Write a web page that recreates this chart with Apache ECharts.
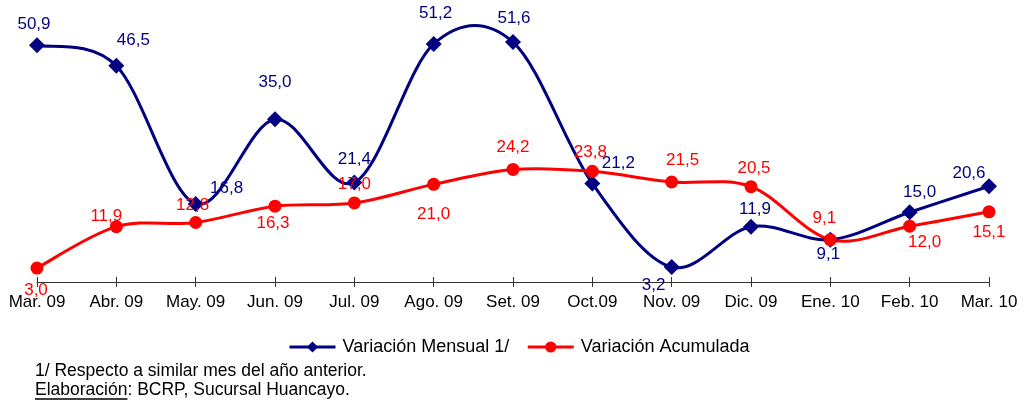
<!DOCTYPE html>
<html>
<head>
<meta charset="utf-8">
<script src="https://cdn.jsdelivr.net/npm/echarts@6/dist/echarts.min.js"></script>
<style>
html,body{margin:0;padding:0;background:#fff;}
#chart{width:1024px;height:405px;}
</style>
</head>
<body>
<div id="chart"></div>
<script>
const categories = ['Mar. 09','Abr. 09','May. 09','Jun. 09','Jul. 09','Ago. 09','Set. 09','Oct.09','Nov. 09','Dic. 09','Ene. 10','Feb. 10','Mar. 10'];
const mensual = [50.9, 46.5, 16.8, 35.0, 21.4, 51.2, 51.6, 21.2, 3.2, 11.9, 9.1, 15.0, 20.6];
const acumulada = [3.0, 11.9, 12.8, 16.3, 17.0, 21.0, 24.2, 23.8, 21.5, 20.5, 9.1, 12.0, 15.1];
const seriesNames = ['Variación Mensual 1/', 'Variación Acumulada'];
const footnote1 = '1/ Respecto a similar mes del año anterior.';
const footnote2a = 'Elaboración';
const footnote2b = ': BCRP, Sucursal Huancayo.';

// label offsets (styling only)
const mensualOffsets = [[-3,-21],[17,-25],[31,-16],[0,-37],[0,-23],[2,-31],[1,-24],[26,-20],[-18,18],[4,-17],[-2,15],[10,-20],[-20,-13]];
const acumOffsets = [[-1,22],[-10,-10],[-3,-17],[-2,17],[0,-19],[0,30],[0,-22],[-2,-19],[11,-22],[3,-18],[-6,-21],[15,16],[0,21]];

const FONT = "'Liberation Sans', Arial, sans-serif";
const NAVY = '#000080';
const RED = '#FF0000';
const fmt = v => v.toFixed(1).replace('.', ',');

function build(values, offsets) {
  return values.map((v, i) => ({ value: v, label: { offset: offsets[i] } }));
}

// Excel-like smooth curve (Catmull-Rom) drawn segment by segment via the chart's own scales
function curveSeries(values, color, z) {
  const n = values.length;
  return {
    type: 'custom',
    coordinateSystem: 'cartesian2d',
    clip: false,
    silent: true,
    z: z,
    data: values.map((v, i) => [i, v]),
    renderItem: function (params, api) {
      const i = params.dataIndex;
      if (i >= n - 1) return null;
      const c = k => { const j = Math.max(0, Math.min(n - 1, k)); return api.coord([j, values[j]]); };
      const p0 = c(i - 1), p1 = c(i), p2 = c(i + 1), p3 = c(i + 2);
      return {
        type: 'bezierCurve',
        shape: {
          x1: p1[0], y1: p1[1], x2: p2[0], y2: p2[1],
          cpx1: p1[0] + (p2[0] - p0[0]) / 6, cpy1: p1[1] + (p2[1] - p0[1]) / 6,
          cpx2: p2[0] - (p3[0] - p1[0]) / 6, cpy2: p2[1] - (p3[1] - p1[1]) / 6
        },
        style: { stroke: color, lineWidth: 3, fill: null, lineCap: 'round' }
      };
    }
  };
}

const cvs = document.createElement('canvas').getContext('2d');
cvs.font = "17.5px " + FONT;
const w2a = cvs.measureText(footnote2a).width;

const chart = echarts.init(document.getElementById('chart'));
chart.setOption({
  animation: false,
  backgroundColor: '#fff',
  grid: { left: 37, right: 35, top: 3, bottom: 123 },
  xAxis: [{
    type: 'category',
    data: categories,
    boundaryGap: false,
    axisLine: { lineStyle: { color: '#333', width: 1 } },
    axisTick: { show: true, length: 5, lineStyle: { color: '#333' } },
    axisLabel: { color: '#000', fontFamily: FONT, fontSize: 17, margin: 12, interval: 0 },
    splitLine: { show: false }
  }, {
    type: 'category',
    data: categories,
    boundaryGap: false,
    position: 'bottom',
    axisLine: { show: false },
    axisTick: { show: true, inside: true, length: 5, lineStyle: { color: '#333' } },
    axisLabel: { show: false },
    splitLine: { show: false }
  }],
  yAxis: { type: 'value', min: 0, max: 60, show: false },
  legend: {
    top: 333,
    left: 283,
    itemWidth: 46,
    itemHeight: 14,
    itemGap: 17,
    textStyle: { color: '#000', fontFamily: FONT, fontSize: 18, padding: [0, 0, 0, 2] },
    data: [
      { name: seriesNames[0], lineStyle: { color: NAVY, width: 3, opacity: 1 } },
      { name: seriesNames[1], lineStyle: { color: RED, width: 3, opacity: 1 } }
    ]
  },
  series: [
    curveSeries(mensual, NAVY, 2),
    curveSeries(acumulada, RED, 3),
  {
    name: seriesNames[0],
    type: 'line',
    data: build(mensual, mensualOffsets),
    symbol: 'diamond',
    symbolSize: 16,
    itemStyle: { color: NAVY },
    lineStyle: { color: NAVY, width: 3, opacity: 0 },
    label: {
      show: true, position: 'inside', color: NAVY, fontFamily: FONT, fontSize: 17,
      formatter: p => fmt(p.value)
    },
    z: 4
  }, {
    name: seriesNames[1],
    type: 'line',
    data: build(acumulada, acumOffsets),
    symbol: 'circle',
    symbolSize: 13,
    itemStyle: { color: RED },
    lineStyle: { color: RED, width: 3, opacity: 0 },
    label: {
      show: true, position: 'inside', color: RED, fontFamily: FONT, fontSize: 17,
      formatter: p => fmt(p.value)
    },
    z: 5
  }],
  graphic: [{
    type: 'text', left: 35, top: 362,
    style: { text: footnote1, fill: '#000', font: '17.5px ' + FONT }
  }, {
    type: 'text', left: 35, top: 381,
    style: { text: footnote2a, fill: '#000', font: '17.5px ' + FONT }
  }, {
    type: 'text', left: 35 + w2a, top: 381,
    style: { text: footnote2b, fill: '#000', font: '17.5px ' + FONT }
  }, {
    type: 'line',
    shape: { x1: 35, y1: 399, x2: 35 + w2a, y2: 399 },
    style: { stroke: '#000', lineWidth: 1.5 }
  }]
});
</script>
</body>
</html>
